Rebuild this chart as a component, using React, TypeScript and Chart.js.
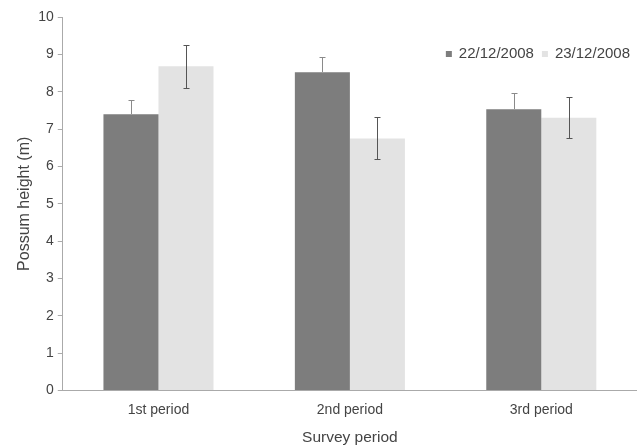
import React, { useEffect, useRef } from "react";
import { Chart, registerables } from "chart.js";

Chart.register(...registerables);

const categories = ["1st period", "2nd period", "3rd period"];
const seriesNames = ["22/12/2008", "23/12/2008"];
const values1 = [7.4, 8.52, 7.53];
const errors1 = [0.37, 0.4, 0.43];
const values2 = [8.68, 6.75, 7.3];
const errors2 = [0.57, 0.56, 0.55];
const yTicks = [0, 1, 2, 3, 4, 5, 6, 7, 8, 9, 10];

const errorLists = [errors1, errors2];
const plusOnly = [true, false];
const FONT = "'Liberation Sans', Arial, sans-serif";

const errorBarPlugin = {
  id: "errorBars",
  afterDatasetsDraw(chart: any) {
    const ctx = chart.ctx;
    const yScale = chart.scales.y;
    chart.data.datasets.forEach((ds: any, di: number) => {
      const meta = chart.getDatasetMeta(di);
      const errs = errorLists[di];
      meta.data.forEach((el: any, i: number) => {
        const v = ds.data[i];
        const e = errs[i];
        const x = Math.round(el.x);
        const yTop = Math.round(yScale.getPixelForValue(v + e));
        const yBot = Math.round(plusOnly[di] ? yScale.getPixelForValue(v) : yScale.getPixelForValue(v - e));
        ctx.save();
        ctx.strokeStyle = di === 0 ? "#8a8a8a" : "#555555";
        ctx.lineWidth = 1;
        ctx.beginPath();
        ctx.moveTo(x + 0.5, yTop);
        ctx.lineTo(x + 0.5, yBot);
        ctx.moveTo(x - 2.5, yTop + 0.5);
        ctx.lineTo(x + 3.5, yTop + 0.5);
        if (!plusOnly[di]) {
          ctx.moveTo(x - 2.5, yBot + 0.5);
          ctx.lineTo(x + 3.5, yBot + 0.5);
        }
        ctx.stroke();
        ctx.restore();
      });
    });
  },
};

const legendPlugin = {
  id: "customLegend",
  afterDraw(chart: any) {
    const ctx = chart.ctx;
    ctx.save();
    ctx.font = "15px " + FONT;
    ctx.textBaseline = "middle";
    const cy = chart.chartArea.top + 37;
    let x = chart.width - 7;
    const items = chart.data.datasets.map((d: any) => ({ text: d.label, color: d.backgroundColor }));
    for (let i = items.length - 1; i >= 0; i--) {
      const w = ctx.measureText(items[i].text).width;
      x -= w;
      ctx.fillStyle = "#444";
      ctx.fillText(items[i].text, x, cy);
      x -= 13;
      ctx.fillStyle = items[i].color;
      ctx.fillRect(x, cy - 3, 6, 6);
      x -= 8;
    }
    ctx.restore();
  },
};

export default function App() {
  const ref = useRef<HTMLCanvasElement | null>(null);
  useEffect(() => {
    if (!ref.current) return;
    const chart = new Chart(ref.current, {
      type: "bar",
      data: {
        labels: categories,
        datasets: [
          {
            label: seriesNames[0],
            data: values1,
            backgroundColor: "#7d7d7d",
            borderWidth: 0,
          },
          {
            label: seriesNames[1],
            data: values2,
            backgroundColor: "#e3e3e3",
            borderWidth: 0,
          },
        ],
      },
      options: {
        animation: false,
        responsive: false,
        maintainAspectRatio: false,
        layout: { padding: { top: 17, right: -2, bottom: 1, left: 15 } },
        datasets: {
          bar: { categoryPercentage: 0.575, barPercentage: 1 },
        },
        plugins: {
          tooltip: { enabled: false },
          legend: { display: false },
        },
        scales: {
          x: {
            grid: { display: false },
            border: { display: true, color: "#aaa", dash: [2, 2] },
            ticks: {
              color: "#444",
              padding: 3,
              font: { family: FONT, size: 14 },
            },
            title: {
              display: true,
              text: "Survey period",
              color: "#444",
              padding: { top: 7, bottom: 0 },
              font: { family: FONT, size: 15.5 },
            },
          },
          y: {
            min: 0,
            max: 10,
            afterBuildTicks: (axis: any) => {
              axis.ticks = yTicks.map((v) => ({ value: v }));
            },
            grid: {
              display: true,
              drawOnChartArea: false,
              tickLength: 5,
              color: "#aaa",
            },
            border: { display: true, color: "#aaa", dash: [2, 2] },
            ticks: {
              color: "#444",
              padding: 4,
              font: { family: FONT, size: 14 },
            },
            title: {
              display: true,
              text: "Possum height (m)",
              color: "#444",
              padding: { top: 0, bottom: 0 },
              font: { family: FONT, size: 16 },
            },
          },
        },
      },
      plugins: [errorBarPlugin, legendPlugin],
    } as any);
    return () => chart.destroy();
  }, []);
  return (
    <div style={{ position: "absolute", left: 0, top: 0, width: 637, height: 448, background: "#fff" }}>
      <canvas ref={ref} width={637} height={448} />
    </div>
  );
}
